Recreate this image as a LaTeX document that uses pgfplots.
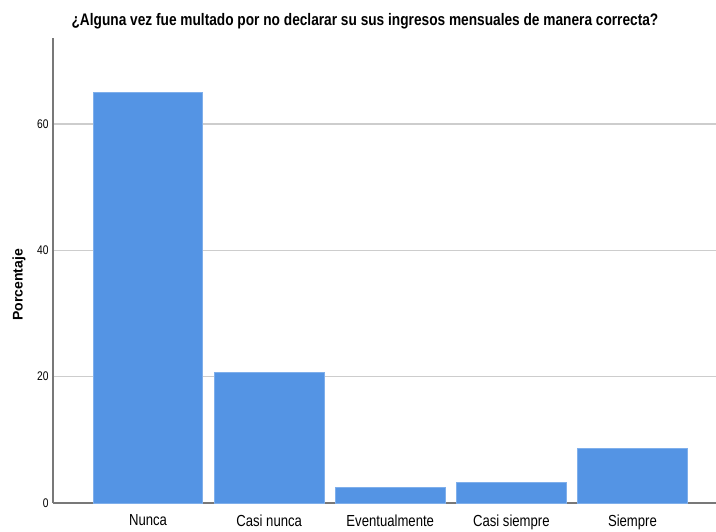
\documentclass[border=0pt]{standalone}
\usepackage{fontspec}
\setmainfont{Liberation Sans}
\newfontfamily\narrowfont[FakeStretch=0.82]{Liberation Sans}
\usepackage{pgfplots}
\pgfplotsset{compat=1.18}
\usetikzlibrary{calc}
\definecolor{barblue}{RGB}{84,148,228}
\definecolor{gridgray}{RGB}{205,205,205}
\definecolor{axisgray}{RGB}{120,120,120}

\begin{document}
\begin{tikzpicture}
\begin{axis}[
  name=ax,
  scale only axis, width=663pt, height=465pt,
  ymin=0, ymax=73.6, xmin=-0.785, xmax=4.69,
  ybar, bar width=0.905, bar shift=0pt,
  xtick=data,
  xticklabels={Nunca, Casi nunca, Eventualmente, Casi siempre, Siempre},
  ytick={0,20,40,60},
  ymajorgrids, grid style={gridgray, line width=1.2pt},
  axis x line*=bottom, axis y line*=left,
  axis line style={axisgray, line width=1.2pt, -},
  major tick length=0pt,
  /pgf/number format/assume math mode=true,
  yticklabel style={font=\narrowfont\fontsize{12.5}{14}\selectfont, xshift=-1pt},
  xticklabel style={font=\narrowfont\fontsize{16}{18}\selectfont, yshift=-8pt},
]
\addplot[fill=barblue, draw=barblue!75!white, line width=0.8pt]
  coordinates {(0,65.0) (1,20.7) (2,2.4) (3,3.2) (4,8.7)};
\end{axis}
\node[font=\narrowfont\bfseries\fontsize{16.7}{19}\selectfont, anchor=base]
  at ($(ax.north west)+(312pt,12pt)$) {¿Alguna vez fue multado por no declarar su sus ingresos mensuales de manera correcta?};
\node[font=\bfseries\fontsize{14}{16}\selectfont, rotate=90, anchor=center]
  at ($(ax.south west)+(-34pt,218pt)$) {Porcentaje};
\pgfresetboundingbox
\path[use as bounding box] ($(ax.south west)+(-53pt,-28pt)$) rectangle ($(ax.south west)+(663pt,503pt)$);
\end{tikzpicture}
\end{document}
